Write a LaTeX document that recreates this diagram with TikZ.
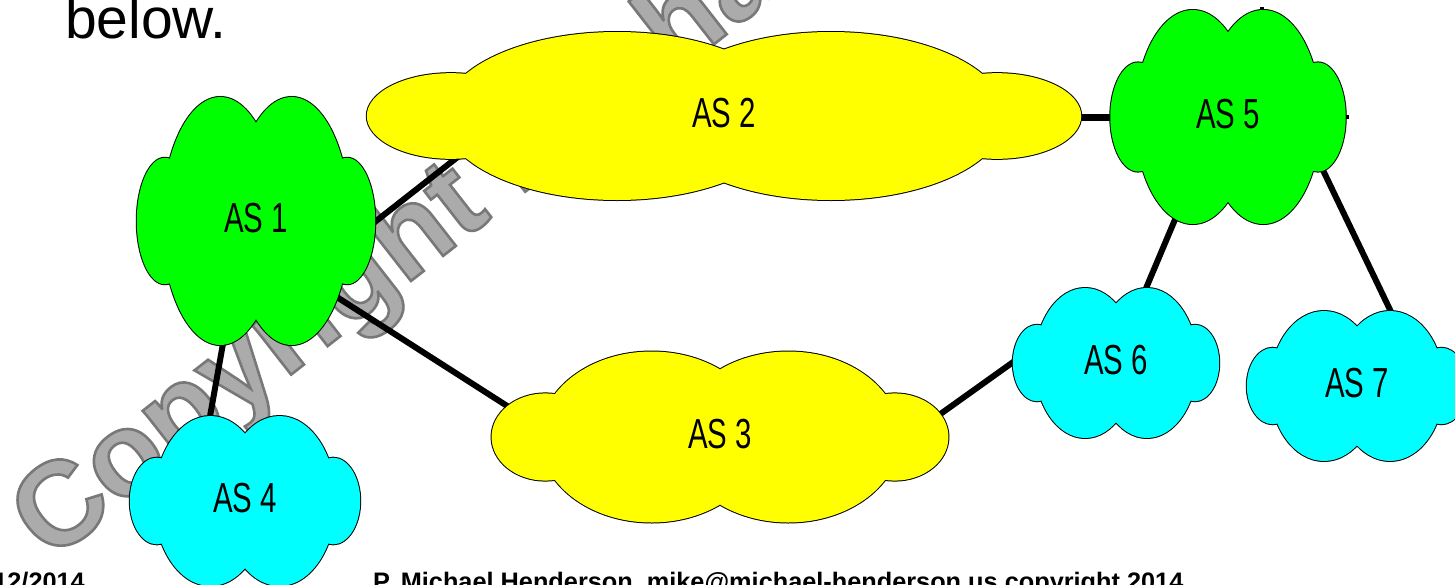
\documentclass[tikz,border=0pt]{standalone}
\usepackage{fontspec}
\setmainfont{Liberation Sans}
\newfontfamily\narrowfont[FakeStretch=0.7]{Liberation Sans}
\newfontfamily\wmfont[FakeBold=2.2]{Liberation Sans Bold}
\usetikzlibrary{calc}

\definecolor{asgreen}{HTML}{00FF00}
\definecolor{asyellow}{HTML}{FFFF00}
\definecolor{ascyan}{HTML}{00FFFF}
\definecolor{wmfill}{HTML}{ABABAB}

\pgfdeclarelayer{wmlayer}
\pgfdeclarelayer{linklayer}
\pgfsetlayers{wmlayer,linklayer,main}

% cloud outline: union of two tall ellipses and two side lobes
\newcommand{\cloudshape}[5]{%
  \pgfmathsetmacro\cldbx{0.15*#3}%
  \pgfmathsetmacro\cldbrx{0.245*#3}%
  \pgfmathsetmacro\cldbry{0.5*#4}%
  \pgfmathsetmacro\cldsx{0.383*#3}%
  \pgfmathsetmacro\cldsrx{0.118*#3}%
  \pgfmathsetmacro\cldsry{0.255*#4}%
  \path[cloudedge]
    (#1-\cldbx,#2) ellipse [x radius=\cldbrx pt, y radius=\cldbry pt]
    (#1+\cldbx,#2) ellipse [x radius=\cldbrx pt, y radius=\cldbry pt]
    (#1-\cldsx,#2) ellipse [x radius=\cldsrx pt, y radius=\cldsry pt]
    (#1+\cldsx,#2) ellipse [x radius=\cldsrx pt, y radius=\cldsry pt];
  \path[fill=#5]
    (#1-\cldbx,#2) ellipse [x radius=\cldbrx pt, y radius=\cldbry pt]
    (#1+\cldbx,#2) ellipse [x radius=\cldbrx pt, y radius=\cldbry pt]
    (#1-\cldsx,#2) ellipse [x radius=\cldsrx pt, y radius=\cldsry pt]
    (#1+\cldsx,#2) ellipse [x radius=\cldsrx pt, y radius=\cldsry pt];
}

\tikzset{
  cloudedge/.style={draw=black, line width=2pt},
  aslabel/.style={inner sep=0pt, font=\narrowfont\fontsize{42}{50}\selectfont},
  link/.style={line width=6pt, draw=black},
  wmark/.style={rotate=38, anchor=base west, inner sep=0pt,
    font=\wmfont\fontsize{119}{130}\selectfont},
  foot/.style={inner sep=0pt, font=\bfseries\fontsize{25.3}{30}\selectfont},
}

\begin{document}
\begin{tikzpicture}[x=1pt, y=-1pt]
\useasboundingbox (0,0) rectangle (1455,584);
\clip (0,0) rectangle (1455,584);

% watermark (bottom layer)
\begin{pgfonlayer}{wmlayer}
\fill[white] (0,0) rectangle (1455,584);
\node[wmark, text=wmfill] (wm) at (50,563)
  {\special{pdf:literal direct 0.47 G}Copyright Michael Henderson};
\end{pgfonlayer}

% clouds
\cloudshape{256}{221}{238}{248}{asgreen}
\cloudshape{724}{116}{713}{168}{asyellow}
\cloudshape{720}{437}{456}{171}{asyellow}
\cloudshape{245}{501}{230}{170}{ascyan}
\cloudshape{1228}{117}{235}{214}{asgreen}
\cloudshape{1116}{363}{206}{150}{ascyan}
\cloudshape{1357}{386}{220}{150}{ascyan}

% label nodes
\node[aslabel] (as1) at (256,218) {AS 1};
\node[aslabel] (as2) at (724,113) {AS 2};
\node[aslabel] (as3) at (720,434) {AS 3};
\node[aslabel] (as4) at (245,498) {AS 4};
\node[aslabel] (as5) at (1228,114) {AS 5};
\node[aslabel] (as6) at (1116,360) {AS 6};
\node[aslabel] (as7) at (1357,383) {AS 7};

% connectors (under the clouds)
\begin{pgfonlayer}{linklayer}
\draw[link] ($(as1)+(115,7)$) -- ($(as2)+(-265,43)$);
\draw[link] ($(as1)+(73,74)$) -- ($(as3)+(-205,-23)$);
\draw[link] ($(as1)+(-32,120)$) -- ($(as4)+(-36,-76)$);
\draw[link, line width=7pt] ($(as2)+(350,4)$) -- ($(as5)+(-110,3)$);
\draw[link] ($(as5)+(-49,96)$) -- ($(as6)+(28,-67)$);
\draw[link] ($(as5)+(92,50)$) -- ($(as7)+(36,-67)$);
\draw[link] ($(as3)+(219,-19)$) -- ($(as6)+(-100,0)$);
\draw[line width=4pt] ($(as5)+(34,10)$) -- ($(as5)+(34,-107)$);
\draw[line width=4pt] ($(as5)+(100,3)$) -- ($(as5)+(121,3)$);
\end{pgfonlayer}

% texts
\node[anchor=base west, inner sep=0pt, font=\fontsize{57}{64}\selectfont] (below) at (65,38) {below.};
\node[foot, anchor=base east] (date) at (85,590) {12/2014};
\node[foot, anchor=base west] (credit) at (373,590) {P. Michael Henderson, mike@michael-henderson.us copyright 2014};
\end{tikzpicture}
\end{document}
